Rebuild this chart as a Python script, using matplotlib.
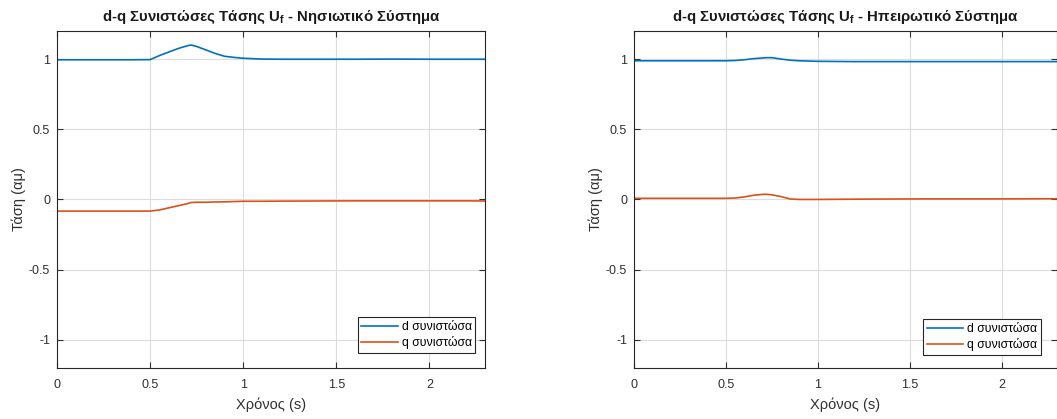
import matplotlib
matplotlib.use("Agg")
import matplotlib.pyplot as plt

plt.rcParams['font.family'] = ['Liberation Sans', 'DejaVu Sans']
plt.rcParams['mathtext.fontset'] = 'custom'
plt.rcParams['mathtext.rm'] = 'Liberation Sans'
plt.rcParams['mathtext.bf'] = 'Liberation Sans:bold'

# time samples (s)
t = [0, 0.1, 0.2, 0.3, 0.4, 0.5, 0.55, 0.6, 0.65, 0.7, 0.72, 0.75, 0.8, 0.85,
     0.9, 0.95, 1.0, 1.1, 1.2, 1.4, 1.6, 1.8, 2.0, 2.2, 2.3]

# island system
island_d = [0.995, 0.995, 0.995, 0.995, 0.995, 0.996, 1.025, 1.05, 1.075, 1.095, 1.10,
            1.09, 1.065, 1.04, 1.02, 1.012, 1.006, 1.0, 0.999, 0.999, 0.999, 1.0,
            0.999, 0.999, 0.999]
island_q = [-0.083, -0.083, -0.083, -0.083, -0.083, -0.083, -0.075, -0.06, -0.045, -0.03,
            -0.022, -0.02, -0.02, -0.018, -0.017, -0.015, -0.013, -0.013, -0.012,
            -0.011, -0.01, -0.01, -0.01, -0.01, -0.011]

# mainland system
mainland_d = [0.988, 0.988, 0.988, 0.988, 0.988, 0.988, 0.99, 0.995, 1.003, 1.008, 1.01,
              1.01, 1.0, 0.992, 0.988, 0.986, 0.984, 0.983, 0.982, 0.982, 0.982, 0.982,
              0.982, 0.982, 0.982]
mainland_q = [0.008, 0.008, 0.008, 0.008, 0.008, 0.008, 0.01, 0.018, 0.03, 0.036, 0.037,
              0.033, 0.02, 0.003, 0.0, 0.0, 0.0, 0.001, 0.002, 0.003, 0.004, 0.004,
              0.004, 0.005, 0.005]

titles = [r'd-q Συνιστώσες Τάσης U$_{\mathbf{f}}$ - Νησιωτικό Σύστημα',
          r'd-q Συνιστώσες Τάσης U$_{\mathbf{f}}$ - Ηπειρωτικό Σύστημα']
labels = ['d συνιστώσα', 'q συνιστώσα']
blue = '#0072BD'
orange = '#D95319'

fig = plt.figure(figsize=(10.57, 4.19), dpi=100)
ax1 = fig.add_axes([0.054, 0.122, 0.405, 0.804])
ax2 = fig.add_axes([0.5998, 0.122, 0.4002, 0.804])

panels = [(ax1, island_d, island_q, (0.977, 0.045)),
          (ax2, mainland_d, mainland_q, (0.962, 0.039))]

for i, (ax, d, q, anchor) in enumerate(panels):
    ax.plot(t, d, color=blue, lw=1.2, label=labels[0])
    ax.plot(t, q, color=orange, lw=1.2, label=labels[1])
    ax.set_xlim(0, 2.3)
    ax.set_ylim(-1.2, 1.2)
    ax.set_xticks([0, 0.5, 1, 1.5, 2])
    ax.set_xticklabels(['0', '0.5', '1', '1.5', '2'])
    ax.set_yticks([-1, -0.5, 0, 0.5, 1])
    ax.set_yticklabels(['-1', '-0.5', '0', '0.5', '1'])
    ax.grid(True, color='#dcdcdc', lw=0.8)
    ax.tick_params(direction='in', top=True, right=True, labelsize=9,
                   colors='#303030', length=4, width=0.8)
    ax.tick_params(axis='x', pad=8)
    ax.tick_params(axis='y', pad=5)
    for s in ax.spines.values():
        s.set_color('#262626')
        s.set_linewidth(0.8)
    ax.set_title(titles[i], fontsize=10.8, fontweight='bold', color='#1a1a1a', pad=7)
    ax.set_xlabel('Χρόνος (s)', fontsize=10.5, color='#303030', labelpad=5)
    ax.set_ylabel('Τάση (αμ)', fontsize=10.5, color='#303030', labelpad=2)
    leg = ax.legend(loc='lower right', bbox_to_anchor=anchor, fontsize=8.8,
                    handlelength=3.0, fancybox=False, framealpha=1,
                    edgecolor='#262626', borderpad=0.3, labelspacing=0.25,
                    handletextpad=0.3, borderaxespad=0)
    leg.get_frame().set_linewidth(0.8)

fig.savefig('out.png', dpi=100)
